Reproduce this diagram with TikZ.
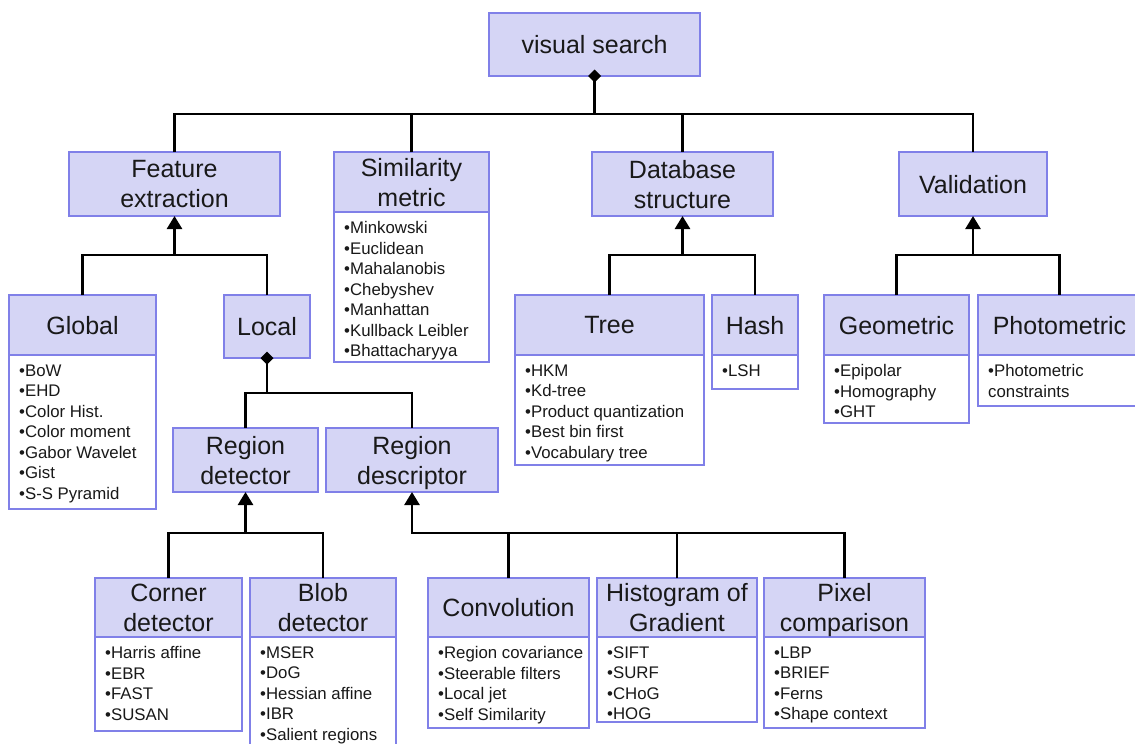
\documentclass[tikz,border=0pt]{standalone}
\usepackage{fontspec}
\setmainfont{Liberation Sans}
\usetikzlibrary{arrows.meta}

\definecolor{hdrfill}{RGB}{213,213,245}
\definecolor{edgeblue}{RGB}{128,128,232}
\definecolor{ink}{RGB}{25,25,25}

\tikzset{
  hdr/.style={draw=edgeblue, fill=hdrfill, line width=1.6pt, inner sep=0pt, outer sep=0pt,
    anchor=north west, align=center, text=ink, font=\fontsize{25}{30}\selectfont,
    execute at begin node={\vphantom{A}}, text depth=-1.5pt},
  lstbox/.style={draw=edgeblue, fill=white, line width=1.6pt, inner sep=0pt, outer sep=0pt,
    anchor=north west},
  lsttext/.style={inner sep=0pt, anchor=north west, align=left, text=ink,
    font=\fontsize{16.8}{20.5}\selectfont},
  conn/.style={line width=2.6pt, draw=black},
  uparrow/.style={{Triangle[length=13pt,width=15pt]}-},
  joint/.style={{Diamond[length=13pt,width=13pt]}-, shorten <=-6.5pt},
}

% header-only box: name, x1, y1, x2, y2, title
\newcommand\headbox[6]{%
  \node[hdr, minimum width={#4-#2}, minimum height={#5-#3}] (#1) at (#2,#3) {#6};}

% box with title and item list: name, x1, y1, x2, title bottom, list bottom, title, items
\newcommand\catbox[8]{%
  \node[lstbox, minimum width={#4-#2}, minimum height={#6-#5}] (#1-list) at (#2,#5) {};
  \node[hdr, minimum width={#4-#2}, minimum height={#5-#3}] (#1) at (#2,#3) {#7};
  \node[lsttext] (#1-items) at (#2+10,#5+9.5) {#8};}

\begin{document}
\begin{tikzpicture}[x=1pt,y=-1pt]
\useasboundingbox (0,0) rectangle (1135,744);
\fill[white] (0,0) rectangle (1135,744);

% root and first level
\headbox{vs}{489}{13}{700}{76}{visual search}
\headbox{fe}{69}{152}{280}{216}{Feature\\extraction}
\catbox{sm}{334}{152}{489}{212}{362}{Similarity\\metric}%
  {•Minkowski\\•Euclidean\\•Mahalanobis\\•Chebyshev\\•Manhattan\\•Kullback Leibler\\•Bhattacharyya}
\headbox{ds}{592}{152}{773}{216}{Database\\structure}
\headbox{val}{899}{152}{1047}{216}{Validation}

% second level
\catbox{gl}{9}{295}{156}{355}{509}{Global}%
  {•BoW\\•EHD\\•Color Hist.\\•Color moment\\•Gabor Wavelet\\•Gist\\•S-S Pyramid}
\headbox{loc}{224}{295}{310}{358}{Local}
\catbox{tree}{515}{295}{704}{355}{465}{Tree}%
  {•HKM\\•Kd-tree\\•Product quantization\\•Best bin first\\•Vocabulary tree}
\catbox{hash}{712}{295}{798}{355}{389}{Hash}{•LSH}
\catbox{geo}{824}{295}{969}{355}{423}{Geometric}{•Epipolar\\•Homography\\•GHT}
\catbox{pho}{978}{295}{1141}{355}{406}{Photometric}{•Photometric\\constraints}

% local features
\headbox{rdet}{173}{428}{318}{492}{Region\\detector}
\headbox{rdes}{326}{428}{498}{492}{Region\\descriptor}

% detectors and descriptors
\catbox{cor}{95}{578}{242}{637}{731}{Corner\\detector}%
  {•Harris affine\\•EBR\\•FAST\\•SUSAN}
\catbox{blob}{250}{578}{396}{637}{760}{Blob\\detector}%
  {•MSER\\•DoG\\•Hessian affine\\•IBR\\•Salient regions}
\catbox{conv}{428}{578}{589}{637}{728}{Convolution}%
  {•Region covariance\\•Steerable filters\\•Local jet\\•Self Similarity}
\catbox{hog}{597}{578}{757}{637}{722}{Histogram of\\Gradient}%
  {•SIFT\\•SURF\\•CHoG\\•HOG}
\catbox{pix}{764}{578}{925}{637}{728}{Pixel\\comparison}%
  {•LBP\\•BRIEF\\•Ferns\\•Shape context}

% bus levels
\coordinate (busA) at (0,114);
\coordinate (busB) at (0,255);
\coordinate (busC) at (0,393);
\coordinate (busD) at (0,533);

% visual search composition
\draw[conn, joint] (vs.south) -- (vs.south |- busA);
\draw[conn] (fe.north) |- (val.north |- busA) -- (val.north);
\draw[conn] (sm.north) -- (sm.north |- busA);
\draw[conn] (ds.north) -- (ds.north |- busA);

% feature extraction
\draw[conn, uparrow] (fe.south) -- (fe.south |- busB);
\draw[conn] (gl.north) |- (loc.north |- busB) -- (loc.north);

% local features composition
\draw[conn, joint] (loc.south) -- (loc.south |- busC);
\draw[conn] (rdet.north) |- (rdes.north |- busC) -- (rdes.north);

% region detector
\draw[conn, uparrow] (rdet.south) -- (rdet.south |- busD);
\draw[conn] (cor.north) |- (blob.north |- busD) -- (blob.north);

% region descriptor
\draw[conn, uparrow] (rdes.south) |- (pix.north |- busD) -- (pix.north);
\draw[conn] (conv.north) -- (conv.north |- busD);
\draw[conn] (hog.north) -- (hog.north |- busD);

% database structure
\draw[conn, uparrow] (ds.south) -- (ds.south |- busB);
\draw[conn] (tree.north) |- (hash.north |- busB) -- (hash.north);

% validation
\draw[conn, uparrow] (val.south) -- (val.south |- busB);
\draw[conn] (geo.north) |- (pho.north |- busB) -- (pho.north);
\end{tikzpicture}
\end{document}
